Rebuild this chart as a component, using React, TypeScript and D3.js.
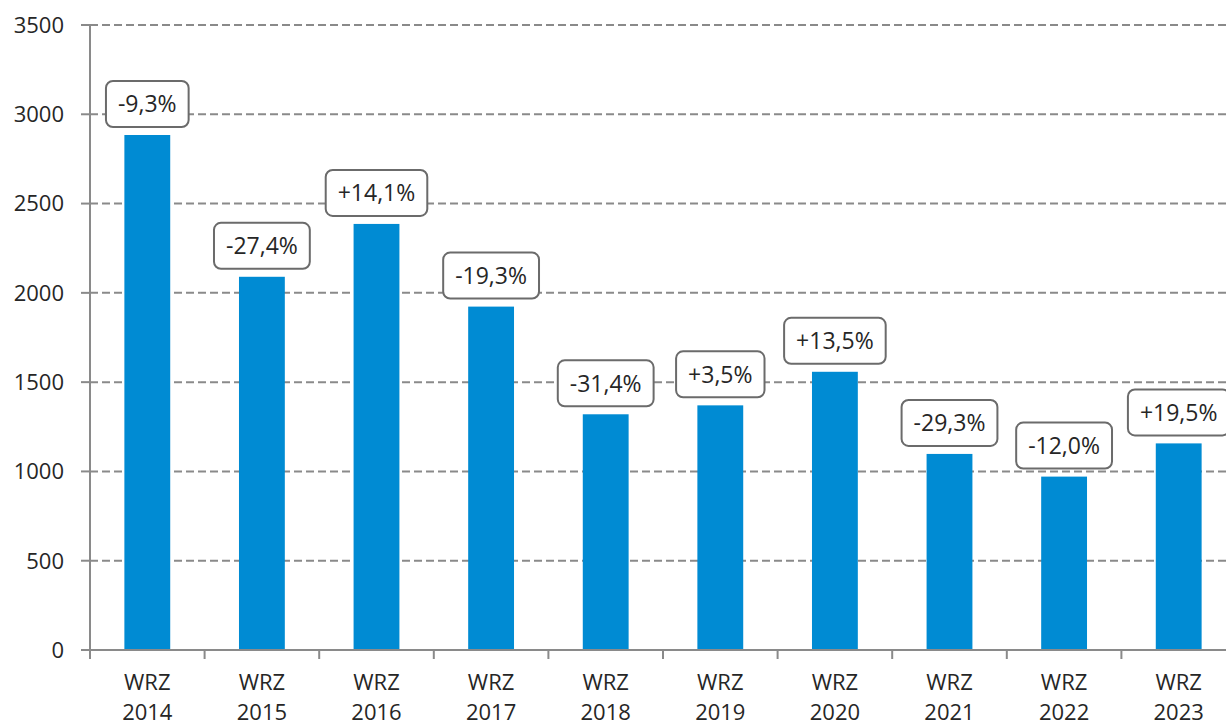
import React, { useEffect, useRef } from 'react';
import * as d3 from 'd3';

const years = ['2014', '2015', '2016', '2017', '2018', '2019', '2020', '2021', '2022', '2023'];
const values = [2884, 2090, 2386, 1923, 1320, 1370, 1558, 1098, 971, 1157];
const changes = ['-9,3%', '-27,4%', '+14,1%', '-19,3%', '-31,4%', '+3,5%', '+13,5%', '-29,3%', '-12,0%', '+19,5%'];
const yTicks = [0, 500, 1000, 1500, 2000, 2500, 3000, 3500];

const App: React.FC = () => {
  const svgRef = useRef<SVGSVGElement>(null);

  useEffect(() => {
    if (!svgRef.current) return;
    const width = 1226;
    const height = 727;
    const left = 90;
    const top = 25;
    const bottom = 650;
    const step = 114.6;

    const svg = d3.select(svgRef.current);
    svg.selectAll('*').remove();
    svg.attr('width', width).attr('height', height);

    const font = "'Open Sans', sans-serif";
    const textColor = '#262626';
    const gray = '#8a8a8a';

    const y = d3.scaleLinear().domain([0, 3500]).range([bottom, top]);
    const x = d3.scaleBand<string>()
      .domain(years)
      .range([left, left + step * years.length])
      .paddingInner(0.6)
      .paddingOuter(0.3);

    // grid lines (dashed) + y ticks
    const grid = svg.append('g');
    grid.selectAll('line.grid')
      .data(yTicks.filter(t => t > 0))
      .enter().append('line')
      .attr('class', 'grid')
      .attr('x1', left).attr('x2', width)
      .attr('y1', d => y(d)).attr('y2', d => y(d))
      .style('stroke', gray)
      .style('stroke-width', 2)
      .style('stroke-dasharray', '8,4');

    grid.selectAll('line.ytick')
      .data(yTicks)
      .enter().append('line')
      .attr('class', 'ytick')
      .attr('x1', left - 9).attr('x2', left)
      .attr('y1', d => y(d)).attr('y2', d => y(d))
      .style('stroke', gray)
      .style('stroke-width', 2);

    grid.selectAll('text.ylab')
      .data(yTicks)
      .enter().append('text')
      .attr('class', 'ylab')
      .attr('x', 64)
      .attr('y', d => y(d))
      .attr('dy', '0.36em')
      .attr('text-anchor', 'end')
      .style('font-family', font)
      .style('font-size', '22px')
      .style('fill', textColor)
      .text(d => d);

    // bars
    svg.append('g').selectAll('rect')
      .data(values)
      .enter().append('rect')
      .attr('x', (d, i) => x(years[i])!)
      .attr('width', x.bandwidth())
      .attr('y', d => y(d))
      .attr('height', d => bottom - y(d))
      .style('fill', '#008bd3');

    // axes
    svg.append('line')
      .attr('x1', left).attr('x2', left)
      .attr('y1', top).attr('y2', bottom)
      .style('stroke', gray).style('stroke-width', 2);
    svg.append('line')
      .attr('x1', left - 9).attr('x2', width)
      .attr('y1', bottom).attr('y2', bottom)
      .style('stroke', gray).style('stroke-width', 2);

    svg.append('g').selectAll('line')
      .data(d3.range(years.length + 1))
      .enter().append('line')
      .attr('x1', i => left + i * x.step())
      .attr('x2', i => left + i * x.step())
      .attr('y1', bottom).attr('y2', bottom + 9)
      .style('stroke', gray).style('stroke-width', 2);

    // x labels
    const xl = svg.append('g').selectAll('text')
      .data(years)
      .enter().append('text')
      .attr('text-anchor', 'middle')
      .style('font-family', font)
      .style('font-size', '22px')
      .style('fill', textColor);
    xl.append('tspan')
      .attr('x', d => x(d)! + x.bandwidth() / 2)
      .attr('y', 690)
      .text('WRZ');
    xl.append('tspan')
      .attr('x', d => x(d)! + x.bandwidth() / 2)
      .attr('y', 720)
      .text(d => d);

    // change labels in rounded boxes
    const boxH = 46;
    const labels = svg.append('g').selectAll('g')
      .data(values)
      .enter().append('g');

    labels.each(function (d, i) {
      const g = d3.select(this);
      const cx = x(years[i])! + x.bandwidth() / 2;
      const boxBottom = y(d) - 8;
      const rect = g.append('rect');
      const t = g.append('text')
        .attr('x', cx)
        .attr('y', boxBottom - boxH / 2)
        .attr('dy', '0.36em')
        .attr('text-anchor', 'middle')
        .style('font-family', font)
        .style('font-size', '23px')
        .style('fill', textColor)
        .text(changes[i]);
      const tw = (t.node() as SVGTextElement).getComputedTextLength();
      const bw = tw + 24;
      rect
        .attr('x', cx - bw / 2)
        .attr('y', boxBottom - boxH)
        .attr('width', bw)
        .attr('height', boxH)
        .attr('rx', 7)
        .style('fill', '#fff')
        .style('stroke', '#6b6b6b')
        .style('stroke-width', 2);
    });
  }, []);

  return (
    <div style={{ position: 'absolute', left: 0, top: 0, width: 1226, height: 727, background: '#fff', overflow: 'hidden' }}>
      <svg ref={svgRef} style={{ display: 'block' }} />
    </div>
  );
};

export default App;
